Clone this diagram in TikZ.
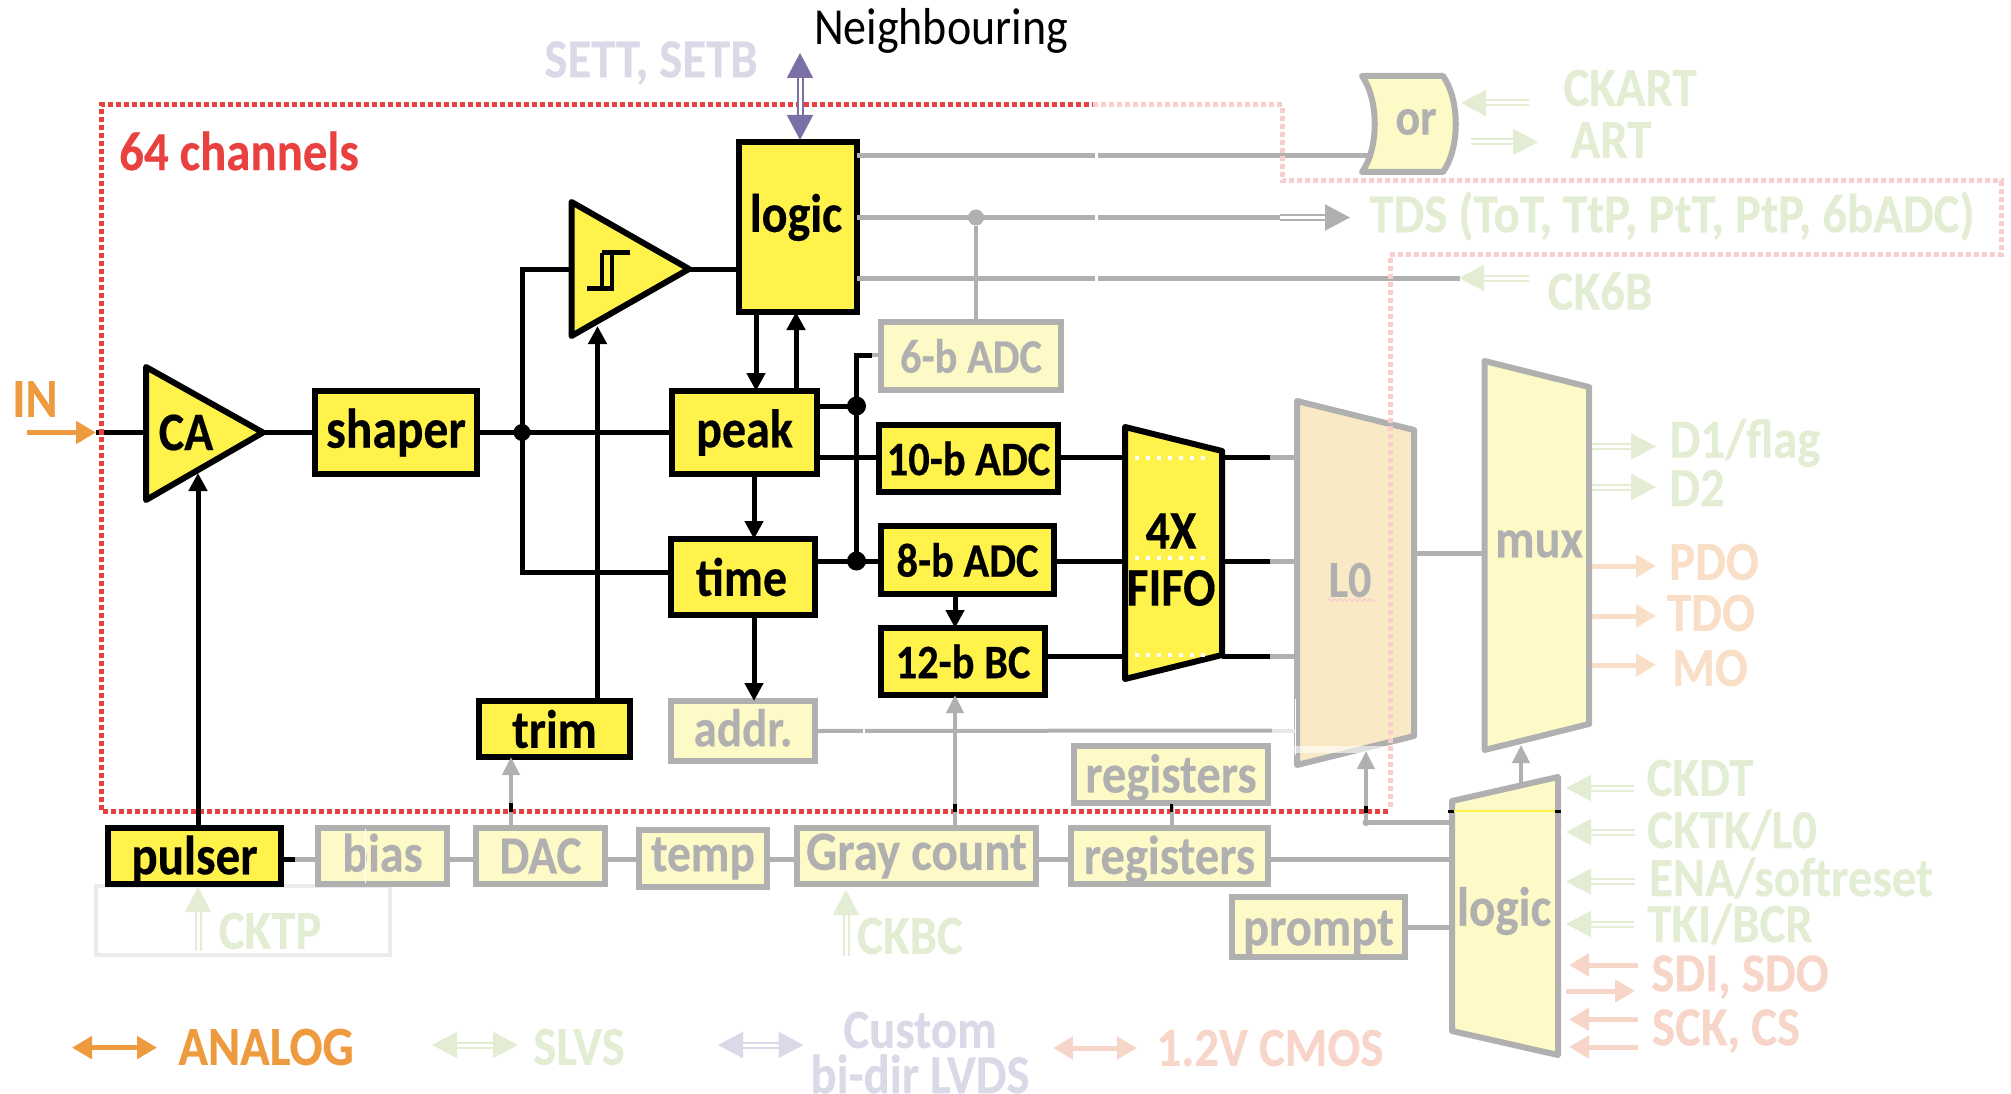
\documentclass[tikz,border=0pt]{standalone}
\usepackage{graphicx}
\usepackage{fontspec}
\setmainfont{Carlito}[BoldFeatures={FakeBold=0.35}]
\usetikzlibrary{arrows.meta,decorations.pathmorphing,calc}
\definecolor{yel}{HTML}{FFF24A}
\definecolor{pyel}{HTML}{FEFAC8}
\definecolor{gry}{HTML}{B0B0B0}
\definecolor{pgrn}{HTML}{E3EDD3}
\definecolor{peach}{HTML}{FADFC8}
\definecolor{salm}{HTML}{F7D5C8}
\definecolor{ppur}{HTML}{DAD9E8}
\definecolor{pur}{HTML}{7B6FA6}
\definecolor{org}{HTML}{EE9A3E}
\definecolor{red1}{HTML}{E94040}
\definecolor{pred}{HTML}{F9CDCD}
\definecolor{ltan}{HTML}{F9E9C5}
\newcommand{\fsz}[1]{\fontsize{#1pt}{#1pt}\selectfont\bfseries}
\newcommand{\tall}[1]{\scalebox{1}[1.13]{#1}}
\newcommand{\blk}[8][48]{%
  \pgfmathsetmacro\bw{#5-#3-2}\pgfmathsetmacro\bh{#6-#4-2}%
  \pgfmathsetmacro\bx{(#5+#3)/2}\pgfmathsetmacro\by{(#6+#4)/2}%
  \node[#2,font=\fsz{#1},minimum width=\bw pt,minimum height=\bh pt] (#7) at (\bx,\by) {\tall{#8}};}
\newcommand{\conn}[4]{\coordinate (#2a) at (#3);\coordinate (#2b) at (#4);\draw[#1] (#2a) -- (#2b);}
\newcommand{\lbl}[5][48.8]{\node[lab,font=\fsz{#1},text=#2] (#3) at (#4) {\tall{#5}};}
\tikzset{
  bb/.style={draw=black,fill=yel,line width=6pt,inner sep=0pt,outer sep=0pt,text=black},
  gb/.style={draw=gry,fill=pyel,line width=6pt,inner sep=0pt,outer sep=0pt,text=gry},
  lab/.style={inner sep=0pt},
  wk/.style={line width=5pt,draw=black},
  wg/.style={line width=5pt,draw=gry},
  wgt/.style={line width=4pt,draw=gry},
  ak/.style={line width=5pt,draw=black,-{Triangle[width=18pt,length=18pt]}},
  ag/.style={line width=4pt,draw=gry,-{Triangle[width=17pt,length=18pt]}},
  dbl/.style={line width=2pt,double distance=3pt,draw=#1,-{Triangle[width=26pt,length=25pt,color=#1,fill=#1]}},
  dbb/.style={line width=2pt,double distance=3pt,draw=#1,{Triangle[width=26pt,length=25pt,color=#1,fill=#1]}-{Triangle[width=26pt,length=25pt,color=#1,fill=#1]}},
  sgl/.style={line width=5pt,draw=#1,-{Triangle[width=22pt,length=20pt,color=#1,fill=#1]}},
  sbb/.style={line width=5pt,draw=#1,{Triangle[width=22pt,length=20pt,color=#1,fill=#1]}-{Triangle[width=22pt,length=20pt,color=#1,fill=#1]}},
  reddash/.style={line width=5pt,dash pattern=on 5pt off 3pt},
  dotk/.style={circle,fill=black,inner sep=0pt,minimum width=13pt,minimum height=13pt},
  dotg/.style={circle,fill=gry,inner sep=0pt,minimum width=16pt,minimum height=16pt},
}
\begin{document}
\begin{tikzpicture}[x=1pt,y=-1pt,line join=miter]
\useasboundingbox (0,0) rectangle (2011,1094);
% ---- dashed channel frame
\draw[draw=red1,reddash] (1388,811) -- (101,811) -- (101,105) -- (1093,105);
\draw[draw=gry!25,line width=4pt] (96,886) rectangle (390,955);
% ---- rectangular blocks
\blk[48]{bb}{738}{141}{858}{313}{logicA}{\rule[-25pt]{0pt}{1pt}\hspace{-4pt}logic}
\blk[49.5]{bb}{314}{390}{478}{475}{shaper}{shaper}
\blk{bb}{671}{390}{818}{475}{peak}{peak}
\blk{bb}{670}{538}{816}{616}{time}{\hspace{-3pt}time}
\blk[42.5]{gb}{880}{321}{1062}{391}{adcA}{6-b ADC}
\blk[42.5]{bb}{878}{424}{1059}{493}{adcB}{10-b ADC}
\blk[42.5]{bb}{880}{525}{1055}{595}{adcC}{8-b ADC}
\blk[42.5]{bb}{880}{627}{1046}{696}{bc}{12-b BC}
\blk{bb}{478}{700}{631}{758}{trim}{trim}
\blk[47]{gb}{670}{700}{816}{762}{addr}{\rule[-6pt]{0pt}{1pt}addr.}
\blk[49]{bb}{107}{827}{282}{885}{pulser}{\rule{0pt}{40pt}pulser}
\blk[48]{gb}{317}{827}{448}{885}{bias}{\rule[-6pt]{0pt}{1pt}bias}
\blk[47.5]{gb}{475}{827}{606}{885}{DAC}{DAC}
\blk[47.5]{gb}{638}{829}{768}{888}{temp}{temp}
\blk[49]{gb}{796}{827}{1037}{885}{gray}{Gray count}
\blk[48.5]{gb}{1070}{827}{1269}{885}{regb}{\rule{0pt}{40pt}registers}
\blk[48.5]{gb}{1073}{745}{1269}{804}{regt}{\rule{0pt}{40pt}registers}
\blk[48.5]{gb}{1231}{896}{1406}{958}{prompt}{\rule{0pt}{40pt}prompt}
\draw[white,line width=1pt] (365,829) -- (365,883);
% ---- polygons
\coordinate (caA) at (145,364);\coordinate (caB) at (263,432.5);\coordinate (caC) at (145,503);
\draw[fill=yel,line width=6pt,line join=round] (146,367) -- (caB) -- (146,500) -- cycle;
\node[font=\fsz{48}] (CA) at (186,432.5) {\tall{CA}};
\coordinate (trgB) at (689,269);
\draw[fill=yel,line width=6pt,line join=round] (571.5,202) -- (trgB) -- (571.5,336) -- cycle;
\draw[line width=5pt] (587,288) -- (614,288);
\draw[line width=3.5pt] (602,288) -- (602,253) (612,288) -- (612,253);
\draw[line width=5pt] (602,253) -- (630,253);
% FIFO
\draw[fill=yel,line width=6pt,line join=round] (1125,427) -- (1222,451) -- (1222,655) -- (1125,679) -- cycle;
\draw[white,line width=4pt,dash pattern=on 4pt off 7pt] (1135,458) -- (1205,458) (1135,558) -- (1205,558) (1135,654.5) -- (1205,654.5);
\node[font=\fsz{48}] (fA) at (1171,531) {\tall{4X}};
\node[font=\fsz{48}] (fB) at (1171,588) {\tall{FIFO}};
% L0
\coordinate (lzL) at (1296,553);\coordinate (lzR) at (1414,553);
\draw[draw=gry,fill=ltan,line width=6pt,line join=round] (1297,401) -- (1414,430) -- (1414,736) -- (1297,765) -- cycle;
\fill[white,opacity=.6] (1292,746) rectangle (1387,753);
\draw[white,line width=1pt] (1295,699) -- (1295,755);
\node[font=\fsz{46},text=gry] (Lz) at (1350,580) {\tall{L0}};
\draw[draw=pred,line width=1pt,decorate,decoration={snake,segment length=5pt,amplitude=1.3pt}] (1328,600) -- (1376,600);
% mux
\coordinate (muxL) at (1485,553);
\coordinate (muxR) at (1590,553);
\draw[draw=gry,fill=pyel,line width=6pt,line join=round] (1484.5,361) -- (1589,387) -- (1589,724) -- (1484.5,750) -- cycle;
\node[font=\fsz{48.5},text=gry] (mux) at (1539,544) {\tall{mux}};
% logic bottom
\coordinate (lgL) at (1452,859);
\coordinate (lgT) at (1521,785);
\draw[draw=gry,fill=pyel,line width=6pt,line join=round] (1452,801) -- (1558,777) -- (1558,1055) -- (1452,1031) -- cycle;
\draw[yel,line width=1.5pt] (1450,811) -- (1560,811);
\draw[black,line width=3pt] (1448,811) -- (1454,811) (1555,811) -- (1561,811);
\node[font=\fsz{49},text=gry] (logicB) at (1504,911) {\tall{logic}};
% or gate
\draw[draw=gry,fill=pyel,line width=6pt,line join=round] (1362,76) -- (1443,76) .. controls (1460,100) and (1460,148) .. (1443,172) -- (1362,172) .. controls (1379,148) and (1379,100) .. (1362,76) -- cycle;
\node[font=\fsz{46},text=gry] (or) at (1416,122) {\tall{or}};
\coordinate (orIn) at (1372,156);
% ---- black connectors
\conn{sgl=org}{inp}{27,432.5}{96,432.5}
\draw[wk] (inpb) -- (147,432.5);
\draw[wk] (caB) -- (shaper.west |- caB);
\draw[wk] (shaper) -- (peak);
\node[dotk,minimum height=17pt,minimum width=13pt] (jA) at (522,432.5) {};
\coordinate (trgIn) at (573,269);
\draw[wk] (trgIn) -| (jA.center);
\draw[wk] (jA.center) |- (time.west |- 0,572);
\draw[wk] (trgB) -- (logicA.west |- trgB);
\coordinate (trimTip) at (597.5,326);
\draw[ak] (trim.north -| trimTip) -- (trimTip);
\coordinate (caTip) at (198,473);
\draw[ak] (pulser.north -| caTip) -- (caTip);
\draw[ak] (logicA.south -| 756,0) -- (peak.north -| 756,0);
\draw[ak] (peak.north -| 796,0) -- (logicA.south -| 796,0);
\draw[ak] (peak.south -| 754,0) -- (time.north -| 754,0);
\draw[ak] (time.south -| 754,0) -- (addr.north -| 754,0);
\draw[ak] (adcC.south -| 955,0) -- (bc.north -| 955,0);
\node[dotk,minimum height=19pt,minimum width=13pt] (jB) at (856.5,406) {};
\node[dotk,minimum height=19pt,minimum width=13pt] (jC) at (856.5,561) {};
\draw[wk] (peak.east |- jB) -- (jB.center) -- (jC.center);
\draw[wk] (time.east |- jC) -- (adcC.west |- jC);
\coordinate (jD) at (872,355);
\draw[wk] (jB.center) -- (856.5,355) -- (jD);
\draw[wgt] (jD) -- (adcA.west |- jD);
\draw[wk] (peak.east |- 0,457) -- (adcB.west |- 0,457);
\coordinate (ffA) at (1125,457);\coordinate (ffB) at (1125,561);\coordinate (ffC) at (1125,656);
\draw[wk] (adcB.east |- ffA) -- (ffA);
\draw[wk] (adcC.east |- ffB) -- (ffB);
\draw[wk] (bc.east |- ffC) -- (ffC);
\coordinate (foA) at (1270,457);\coordinate (foB) at (1270,561);\coordinate (foC) at (1270,656);
\draw[wk] (1222,457) -- (foA);\draw[wk] (1222,561) -- (foB);\draw[wk] (1222,656) -- (foC);
\draw[wg] (foA) -- (1297,457);\draw[wg] (foB) -- (1297,561);\draw[wg] (foC) -- (1297,656);
% ---- grey connectors
\draw[wg] (lzR) -- (muxL);
\draw[wk] (pulser.east |- 0,859) -- (295,859);
\draw[wg] (295,859) -- (bias.west |- 0,859);
\draw[wg] (bias.east |- 0,859) -- (DAC.west |- 0,859);
\draw[wg] (DAC.east |- 0,859) -- (temp.west |- 0,859);
\draw[wg] (temp.east |- 0,859) -- (gray.west |- 0,859);
\draw[wg] (gray.east |- 0,859) -- (regb.west |- 0,859);
\draw[wg] (regb.east |- 0,859) -- (lgL);
\draw[wg] (prompt.east) -- (prompt.east -| lgL);
\draw[wgt] (regb.north -| 1171.5,0) -- (regt.south -| 1171.5,0);
\draw[ag] (DAC.north -| 511,0) -- (trim.south -| 511,0);
\draw[ag] (gray.north -| 955,0) -- (bc.south -| 955,0);
\coordinate (lzIn) at (1366,751);
\draw[wg] (lgL |- 0,822.6) -- (1366,822.6);
\draw[ag] (1366,824) -- (lzIn);
\node[circle,fill=gry,inner sep=0pt,minimum size=7pt] (jE) at (1366,822.6) {};
\draw[ag] (lgT) -- (1521,745);
\draw[wgt] (addr.east) -- (1272,730.5);
\draw[draw=gry!30,line width=4pt] (1272,730.5) -- (1295,730.5);
\draw[white,line width=2pt] (864,727) -- (864,734);
% black bits on the frame
\draw[line width=4pt] (511,803) -- (511,812);
\draw[line width=4pt] (955,804) -- (955,812);
\draw[line width=3pt] (1171.5,804) -- (1171.5,812);
\draw[line width=4pt] (1366,806) -- (1366,813);
% logic outputs
\node[dotg] (jF) at (976,217.5) {};
\coordinate (orEnd) at (1373,156);
\draw[wg] (logicA.east |- orEnd) -- (orEnd);
\draw[wg] (logicA.east |- jF) -- (1280,217.5);
\draw[wg] (logicA.east |- 0,278) -- (1460,278);
\draw[wgt] (jF) -- (adcA.north -| jF);
\draw[white,line width=3pt] (1096,150) -- (1096,162) (1096,212) -- (1096,223) (1096,273) -- (1096,283);
% ---- pale frame
\draw[draw=pred,reddash] (1093,105) -- (1282,105) -- (1282,181) -- (2001,181) -- (2001,255) -- (1390,255) -- (1390,809);
\draw[draw=red1,line width=5pt] (98.5,432.5) -- (103.5,432.5);
% ---- I/O arrows
\conn{dbl=gry}{tds}{1280,217.5}{1350,217.5}
\conn{dbb=pur}{nb}{800,53}{800,140}
\conn{dbl=pgrn}{ckart}{1529,103}{1461,103}
\conn{dbl=pgrn}{art}{1471,142}{1538,142}
\conn{dbl=pgrn}{ckb}{1529,278}{1459,278}
\conn{dbl=pgrn}{dA}{1592,446.5}{1656,446.5}
\conn{dbl=pgrn}{dB}{1592,487}{1656,487}
\conn{sgl=peach}{pdo}{1592,566}{1656,566}
\conn{sgl=peach}{tdo}{1592,616}{1656,616}
\conn{sgl=peach}{mo}{1592,665}{1656,665}
\conn{dbl=pgrn}{ckdt}{1634,788}{1566,788}
\conn{dbl=pgrn}{cktk}{1635,832}{1566,832}
\conn{dbl=pgrn}{ena}{1635,881.6}{1566,881.6}
\conn{dbl=pgrn}{tki}{1634,924}{1566,924}
\conn{sgl=salm}{sdi}{1638,965}{1569,965}
\conn{sgl=salm}{sdo}{1566,991}{1635,991}
\conn{sgl=salm}{sck}{1638,1019.4}{1569,1019.4}
\conn{sgl=salm}{cs}{1638,1047}{1569,1047}
\conn{dbl=pgrn}{cktp}{198,951}{198,887}
\conn{dbl=pgrn}{ckbc}{846,955.5}{846,890}
\conn{sbb=org}{lgA}{72,1047.6}{157,1047.6}
\conn{dbb=pgrn}{lgB}{432,1045}{518,1045}
\conn{dbb=ppur}{lgC}{718,1045}{803.5,1045}
\conn{sbb=salm}{lgD}{1053,1048}{1137,1048}
% ---- labels
\lbl{red1}{tCh}{239,151}{64 channels}
\lbl{org}{tIn}{35,399}{IN}
\node[inner sep=0pt,font=\fontsize{46pt}{46pt}\selectfont] (tNb) at (941,31) {\tall{Neighbouring}};
\lbl{ppur}{tSet}{651,63}{SETT, SETB}
\lbl{pgrn}{tCkart}{1630,88}{CKART}
\lbl{pgrn}{tArt}{1611,140}{ART}
\lbl{pgrn}{tTds}{1672,216}{TDS (ToT, TtP, PtT, PtP, 6bADC)}
\lbl{pgrn}{tCk6}{1600,291}{CK6B}
\lbl{pgrn}{tDa}{1745,443}{D1/flag}
\lbl{pgrn}{tDb}{1697,488}{D2}
\lbl{peach}{tPdo}{1714,562}{PDO}
\lbl{peach}{tTdo}{1711,613}{TDO}
\lbl{peach}{tMo}{1710,668}{MO}
\lbl{pgrn}{tCkdt}{1700,778}{CKDT}
\lbl{pgrn}{tCktk}{1732,830}{CKTK/L0}
\lbl{pgrn}{tEna}{1791,878}{ENA/softreset}
\lbl{pgrn}{tTki}{1730,924}{TKI/BCR}
\lbl{salm}{tSdi}{1740,977}{SDI, SDO}
\lbl{salm}{tSck}{1726,1031}{SCK, CS}
\lbl{pgrn}{tCktp}{270,931}{CKTP}
\lbl{pgrn}{tCkbc}{910,936}{CKBC}
\lbl{org}{tAna}{266,1047}{ANALOG}
\lbl{pgrn}{tSlvs}{579,1047}{SLVS}
\lbl{ppur}{tCus}{920,1030}{Custom}
\lbl{ppur}{tBi}{920,1074}{bi-dir LVDS}
\lbl{salm}{tCmos}{1270,1048}{1.2V CMOS}
\end{tikzpicture}
\end{document}
